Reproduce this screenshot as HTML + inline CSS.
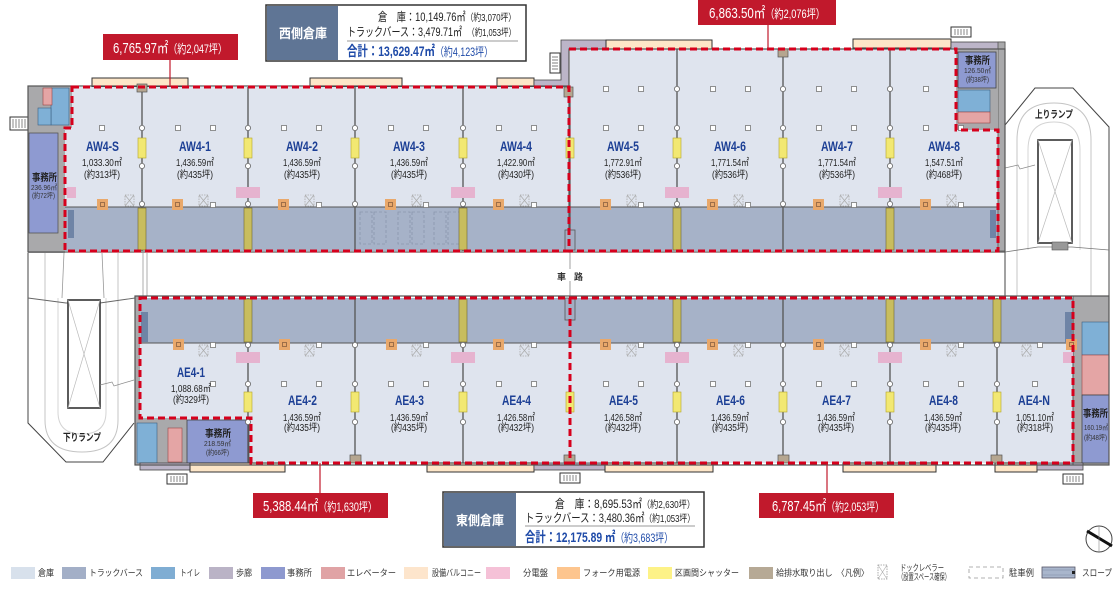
<!DOCTYPE html>
<html><head><meta charset="utf-8">
<style>
html,body{margin:0;padding:0;background:#fff;}
svg{display:block;}
text{font-family:"Liberation Sans","Noto Sans CJK JP",sans-serif;}
.u{font-size:14px;font-weight:bold;fill:#1c3f95;}
.a{font-size:10px;fill:#222;}
.r{font-size:15px;fill:#fff;}
.lg{font-size:9px;fill:#333;font-family:"Noto Sans CJK JP","Liberation Sans",sans-serif;}
.of{font-size:10px;font-weight:bold;fill:#222;font-family:"Noto Sans CJK JP","Liberation Sans",sans-serif;}
.os{font-size:7.5px;fill:#333;}
</style></head><body>
<svg width="1114" height="593" viewBox="0 0 1114 593" xmlns="http://www.w3.org/2000/svg">
<defs>
<g id="sq"><rect x="-2.5" y="-2.5" width="5" height="5" fill="#fff" stroke="#777" stroke-width="0.8"/></g>
<g id="ci"><circle r="2.6" fill="#fff" stroke="#666" stroke-width="0.8"/></g>
<g id="or"><rect x="0" y="0" width="11" height="11" fill="#e9a86b"/><rect x="3.5" y="3.5" width="4" height="4" fill="none" stroke="#8a6040" stroke-width="0.8"/></g>
<g id="dx"><rect x="0" y="0" width="9" height="11" fill="none" stroke="#aaa" stroke-width="0.8" stroke-dasharray="1.5,1"/><path d="M0,0L9,11M9,0L0,11" stroke="#aaa" stroke-width="0.7"/></g>
<g id="st"><rect x="0" y="0" width="20" height="10" fill="#fff" stroke="#333" stroke-width="1"/><path d="M4,2V8M7,2V8M10,2V8M13,2V8M16,2V8" stroke="#555" stroke-width="0.7"/></g>
</defs>

<!-- ========== RAMPS ========== -->
<path d="M28,253 V423 L66,462 H103 L134,423" fill="#fff" stroke="#444" stroke-width="1"/>
<path d="M45,253 V420 Q45,452 82,452 Q118,452 118,420 V253" fill="none" stroke="#c4c4c4" stroke-width="1"/>
<path d="M58,298 V412 Q58,434 82,434 Q106,434 106,412 V298" fill="none" stroke="#d4d4d4" stroke-width="1"/>
<path d="M64,253 L62,298 M102,253 L104,298 M143,253 V296 M147,253 V296" stroke="#999" stroke-width="0.8" fill="none"/>
<path d="M28,298 L66,303 H100 L135,298" stroke="#666" stroke-width="0.9" fill="none"/>
<rect x="68" y="300" width="32" height="108" fill="#fff" stroke="#333" stroke-width="1.6"/>
<path d="M68,300 L100,408 M100,300 L68,408" stroke="#bbb" stroke-width="0.7"/>
<path d="M100,385 L112,382 L114,386 L134,380" stroke="#888" stroke-width="0.7" fill="none"/>
<text x="63" y="441" class="of" font-size="9" textLength="38" lengthAdjust="spacingAndGlyphs">下りランプ</text>

<path d="M1005,296 V125 L1035,88 H1073 L1109,127 V296" fill="#fff" stroke="#444" stroke-width="1"/>
<path d="M1017,296 V140 Q1017,103 1054,103 Q1091,103 1091,140 V296" fill="none" stroke="#c4c4c4" stroke-width="1"/>
<path d="M1028,250 V150 Q1028,122 1054,122 Q1080,122 1080,150 V250" fill="none" stroke="#d4d4d4" stroke-width="1"/>
<path d="M1005,252 L1038,247 H1072 L1109,250" stroke="#777" stroke-width="0.8" fill="none"/>
<rect x="1038" y="140" width="34" height="103" fill="#fff" stroke="#333" stroke-width="1.6"/>
<path d="M1038,140 L1072,243 M1072,140 L1038,243" stroke="#bbb" stroke-width="0.7"/>
<rect x="1052" y="242" width="16" height="8" fill="#999" stroke="#555" stroke-width="0.6"/>
<path d="M1005,168 L1018,165 L1020,169 L1035,165" stroke="#888" stroke-width="0.7" fill="none"/>
<text x="1035" y="118" class="of" font-size="9" textLength="38" lengthAdjust="spacingAndGlyphs">上りランプ</text>

<line x1="570" y1="251" x2="570" y2="298" stroke="#888" stroke-width="0.8"/>
<rect x="557" y="269" width="26" height="12" fill="#fff"/>
<text x="557" y="280" font-size="9" font-weight="bold" fill="#333">車</text>
<text x="574" y="280" font-size="9" font-weight="bold" fill="#333">路</text>

<!-- ========== TOP BUILDING ========== -->
<rect x="92" y="78" width="96" height="9" fill="#fde6c8" stroke="#333" stroke-width="1"/>
<rect x="310" y="78" width="92" height="9" fill="#fde6c8" stroke="#333" stroke-width="1"/>
<rect x="497" y="78" width="37" height="9" fill="#fde6c8" stroke="#333" stroke-width="1"/>
<path d="M534,80 H561 V40 H606 V49 H569 V87 H534 Z" fill="#bcb5c8" stroke="#444" stroke-width="0.8"/>
<use href="#st" x="0" y="0" transform="translate(560,53) rotate(90)"/>
<rect x="606" y="40" width="106" height="9" fill="#fde6c8" stroke="#333" stroke-width="1"/>
<rect x="853" y="39" width="98" height="9" fill="#fde6c8" stroke="#333" stroke-width="1"/>
<rect x="951" y="42" width="54" height="7" fill="#bcb5c8" stroke="#444" stroke-width="0.8"/>
<use href="#st" x="951" y="27"/>

<rect x="65" y="87" width="505" height="120" fill="#dfe4ee"/>
<rect x="65" y="207" width="505" height="44" fill="#a6b2c8"/>
<rect x="570" y="49" width="428" height="158" fill="#dfe4ee"/>
<rect x="570" y="207" width="428" height="44" fill="#a6b2c8"/>
<rect x="998" y="42" width="7" height="209" fill="#a9a9ab" stroke="#555" stroke-width="0.8"/>

<rect x="10" y="117" width="18" height="13" fill="#fff" stroke="#333" stroke-width="1"/>
<path d="M13,119V128M16,119V128M19,119V128M22,119V128M25,119V128" stroke="#555" stroke-width="0.7"/>
<rect x="28" y="86" width="44" height="42" fill="#a9a9ab"/>
<rect x="28" y="128" width="37" height="125" fill="#a9a9ab"/>
<rect x="51" y="88" width="18" height="37" fill="#7fb0d6" stroke="#3b5f80" stroke-width="0.6"/>
<rect x="38" y="108" width="13" height="17" fill="#7fb0d6" stroke="#3b5f80" stroke-width="0.6"/>
<rect x="43" y="88" width="9" height="17" fill="#e4a5a5" stroke="#944" stroke-width="0.6"/>
<rect x="29" y="133" width="29" height="100" fill="#8e9ad1" stroke="#555" stroke-width="0.8"/>
<text x="32" y="181" class="of" textLength="25" lengthAdjust="spacingAndGlyphs">事務所</text>
<text x="31" y="190" class="os" textLength="26" lengthAdjust="spacingAndGlyphs">236.96㎡</text>
<text x="32" y="198" class="os" textLength="23" lengthAdjust="spacingAndGlyphs">(約72坪)</text>

<rect x="956" y="49" width="42" height="81" fill="#a9a9ab"/>
<rect x="958" y="52" width="38" height="36" fill="#8e9ad1" stroke="#444" stroke-width="0.8"/>
<rect x="958" y="90" width="32" height="22" fill="#7fb0d6" stroke="#3b5f80" stroke-width="0.6"/>
<rect x="958" y="112" width="32" height="11" fill="#e4a5a5" stroke="#944" stroke-width="0.6"/>
<text x="965" y="64" class="of" textLength="25" lengthAdjust="spacingAndGlyphs">事務所</text>
<text x="964" y="73" class="os" textLength="27" lengthAdjust="spacingAndGlyphs">126.50㎡</text>
<text x="966" y="82" class="os" textLength="23" lengthAdjust="spacingAndGlyphs">(約38坪)</text>

<g fill="none" stroke="#8a96ad" stroke-width="0.8" stroke-dasharray="3,2">
<rect x="360" y="212" width="12" height="32"/><rect x="374" y="212" width="12" height="32"/>
<rect x="398" y="212" width="12" height="32"/><rect x="412" y="212" width="12" height="32"/>
<rect x="434" y="212" width="12" height="32"/><rect x="448" y="212" width="12" height="32"/>
</g>

<rect x="28" y="86" width="542" height="166" fill="none" stroke="#555" stroke-width="1.2"/>
<rect x="569" y="49" width="436" height="203" fill="none" stroke="#555" stroke-width="1.2"/>
<line x1="65" y1="207" x2="998" y2="207" stroke="#555" stroke-width="1"/>

<g stroke="#555" stroke-width="1.3">
<line x1="142" y1="87" x2="142" y2="251"/><line x1="248" y1="87" x2="248" y2="251"/>
<line x1="355" y1="87" x2="355" y2="251"/><line x1="463" y1="87" x2="463" y2="251"/>
<line x1="677" y1="49" x2="677" y2="251"/><line x1="783" y1="49" x2="783" y2="251"/>
<line x1="890" y1="49" x2="890" y2="251"/>
</g>

<rect x="68" y="210" width="6" height="28" fill="#6f84a6"/>
<rect x="990" y="210" width="6" height="28" fill="#6f84a6"/>
<rect x="565" y="230" width="10" height="20" fill="#a3aec4" stroke="#555" stroke-width="0.8"/>

<g fill="#f2e872" stroke="#b3a52a" stroke-width="0.6">
<rect x="138" y="138" width="8" height="20"/><rect x="244" y="138" width="8" height="20"/>
<rect x="351" y="138" width="8" height="20"/><rect x="459" y="138" width="8" height="20"/>
<rect x="566" y="138" width="8" height="20"/><rect x="673" y="138" width="8" height="20"/>
<rect x="779" y="138" width="8" height="20"/><rect x="886" y="138" width="8" height="20"/>
</g>
<g fill="#c8bd5e" stroke="#6e6630" stroke-width="0.6">
<rect x="138" y="208" width="8" height="42"/><rect x="244" y="208" width="8" height="42"/>
<rect x="459" y="208" width="8" height="42"/><rect x="673" y="208" width="8" height="42"/>
<rect x="886" y="208" width="8" height="42"/>
</g>

<g fill="#e6b3cf">
<rect x="67" y="187" width="9" height="11"/><rect x="236" y="187" width="24" height="11"/>
<rect x="451" y="187" width="24" height="11"/><rect x="665" y="187" width="24" height="11"/>
<rect x="878" y="187" width="24" height="11"/>
</g>
<use href="#or" x="97" y="199"/><use href="#or" x="172" y="199"/><use href="#or" x="278" y="199"/>
<use href="#or" x="385" y="199"/><use href="#or" x="493" y="199"/><use href="#or" x="600" y="199"/>
<use href="#or" x="707" y="199"/><use href="#or" x="813" y="199"/><use href="#or" x="920" y="199"/>
<use href="#dx" x="125" y="195"/><use href="#dx" x="199" y="195"/><use href="#dx" x="305" y="195"/>
<use href="#dx" x="412" y="195"/><use href="#dx" x="520" y="195"/><use href="#dx" x="627" y="195"/>
<use href="#dx" x="734" y="195"/><use href="#dx" x="840" y="195"/><use href="#dx" x="947" y="195"/>

<g>
<use href="#sq" x="102" y="128"/>
<use href="#sq" x="178" y="128"/><use href="#sq" x="213" y="128"/><use href="#sq" x="284" y="128"/><use href="#sq" x="319" y="128"/>
<use href="#sq" x="391" y="128"/><use href="#sq" x="426" y="128"/><use href="#sq" x="499" y="128"/><use href="#sq" x="534" y="128"/>
<use href="#sq" x="606" y="128"/><use href="#sq" x="641" y="128"/><use href="#sq" x="713" y="128"/><use href="#sq" x="748" y="128"/>
<use href="#sq" x="819" y="128"/><use href="#sq" x="854" y="128"/><use href="#sq" x="926" y="128"/><use href="#sq" x="961" y="128"/>
<use href="#sq" x="606" y="89"/><use href="#sq" x="641" y="89"/><use href="#sq" x="713" y="89"/><use href="#sq" x="748" y="89"/>
<use href="#sq" x="819" y="89"/><use href="#sq" x="854" y="89"/><use href="#sq" x="926" y="89"/>
<use href="#sq" x="213" y="205"/><use href="#sq" x="319" y="205"/><use href="#sq" x="426" y="205"/><use href="#sq" x="534" y="205"/>
<use href="#sq" x="641" y="205"/><use href="#sq" x="748" y="205"/><use href="#sq" x="854" y="205"/><use href="#sq" x="961" y="205"/>
</g>
<g>
<use href="#ci" x="142" y="128"/><use href="#ci" x="142" y="166"/><use href="#ci" x="142" y="204"/>
<use href="#ci" x="248" y="128"/><use href="#ci" x="248" y="166"/><use href="#ci" x="248" y="204"/>
<use href="#ci" x="355" y="128"/><use href="#ci" x="355" y="166"/><use href="#ci" x="355" y="204"/>
<use href="#ci" x="463" y="128"/><use href="#ci" x="463" y="166"/><use href="#ci" x="463" y="204"/>
<use href="#ci" x="677" y="89"/><use href="#ci" x="677" y="128"/><use href="#ci" x="677" y="166"/><use href="#ci" x="677" y="204"/>
<use href="#ci" x="783" y="89"/><use href="#ci" x="783" y="128"/><use href="#ci" x="783" y="166"/><use href="#ci" x="783" y="204"/>
<use href="#ci" x="890" y="89"/><use href="#ci" x="890" y="128"/><use href="#ci" x="890" y="166"/><use href="#ci" x="890" y="204"/>
</g>
<g fill="#b5a690" stroke="#555" stroke-width="0.7">
<rect x="137" y="84" width="10" height="8"/><rect x="564" y="87" width="9" height="10"/><rect x="778" y="49" width="10" height="8"/>
</g>

<!-- ========== BOTTOM BUILDING ========== -->
<rect x="140" y="298" width="933" height="45" fill="#a6b2c8"/>
<rect x="140" y="343" width="933" height="120" fill="#dfe4ee"/>
<rect x="135" y="296" width="5" height="169" fill="#a9a9ab"/>
<rect x="135" y="418" width="52" height="47" fill="#a9a9ab"/>
<rect x="137" y="423" width="20" height="40" fill="#7fb0d6" stroke="#3b5f80" stroke-width="0.6"/>
<rect x="168" y="428" width="14" height="34" fill="#e4a5a5" stroke="#944" stroke-width="0.6"/>
<rect x="187" y="420" width="62" height="43" fill="#8e9ad1" stroke="#444" stroke-width="0.8"/>
<text x="205" y="437" class="of" textLength="26" lengthAdjust="spacingAndGlyphs">事務所</text>
<text x="204" y="446" class="os" textLength="27" lengthAdjust="spacingAndGlyphs">218.59㎡</text>
<text x="206" y="455" class="os" textLength="23" lengthAdjust="spacingAndGlyphs">(約66坪)</text>
<rect x="1073" y="296" width="36" height="169" fill="#a9a9ab"/>
<rect x="1082" y="322" width="27" height="33" fill="#7fb0d6" stroke="#3b5f80" stroke-width="0.6"/>
<rect x="1082" y="355" width="27" height="40" fill="#e4a5a5" stroke="#944" stroke-width="0.6"/>
<rect x="1082" y="395" width="27" height="68" fill="#8e9ad1" stroke="#444" stroke-width="0.8"/>
<text x="1083" y="417" class="of" textLength="25" lengthAdjust="spacingAndGlyphs">事務所</text>
<text x="1084" y="430" class="os" textLength="24" lengthAdjust="spacingAndGlyphs">160.19㎡</text>
<text x="1084" y="440" class="os" textLength="23" lengthAdjust="spacingAndGlyphs">(約48坪)</text>

<rect x="140" y="463" width="50" height="7" fill="#bcb5c8" stroke="#444" stroke-width="0.8"/>
<rect x="190" y="463" width="95" height="9" fill="#fde6c8" stroke="#333" stroke-width="1"/>
<rect x="427" y="463" width="107" height="9" fill="#fde6c8" stroke="#333" stroke-width="1"/>
<rect x="534" y="463" width="71" height="7" fill="#bcb5c8" stroke="#444" stroke-width="0.8"/>
<rect x="605" y="463" width="108" height="9" fill="#fde6c8" stroke="#333" stroke-width="1"/>
<rect x="843" y="463" width="93" height="9" fill="#fde6c8" stroke="#333" stroke-width="1"/>
<rect x="995" y="463" width="42" height="9" fill="#fde6c8" stroke="#333" stroke-width="1"/>
<rect x="1037" y="463" width="46" height="7" fill="#bcb5c8" stroke="#444" stroke-width="0.8"/>
<use href="#st" x="167" y="474"/><use href="#st" x="560" y="473"/><use href="#st" x="1063" y="474"/>

<rect x="135" y="296" width="974" height="169" fill="none" stroke="#555" stroke-width="1.2"/>
<line x1="140" y1="343" x2="1073" y2="343" stroke="#555" stroke-width="1"/>
<line x1="1073" y1="296" x2="1073" y2="465" stroke="#555" stroke-width="1"/>
<g stroke="#555" stroke-width="1.3">
<line x1="248" y1="298" x2="248" y2="463"/><line x1="355" y1="298" x2="355" y2="463"/>
<line x1="463" y1="298" x2="463" y2="463"/><line x1="677" y1="298" x2="677" y2="463"/>
<line x1="783" y1="298" x2="783" y2="463"/><line x1="890" y1="298" x2="890" y2="463"/>
<line x1="997" y1="298" x2="997" y2="463"/>
</g>
<rect x="141" y="312" width="7" height="30" fill="#6f84a6"/>
<rect x="1065" y="312" width="7" height="30" fill="#6f84a6"/>
<rect x="565" y="298" width="10" height="22" fill="#a3aec4" stroke="#555" stroke-width="0.8"/>

<g fill="#f2e872" stroke="#b3a52a" stroke-width="0.6">
<rect x="244" y="392" width="8" height="20"/><rect x="351" y="392" width="8" height="20"/>
<rect x="459" y="392" width="8" height="20"/><rect x="566" y="392" width="8" height="20"/>
<rect x="673" y="392" width="8" height="20"/><rect x="779" y="392" width="8" height="20"/>
<rect x="886" y="392" width="8" height="20"/><rect x="993" y="392" width="8" height="20"/>
</g>
<g fill="#c8bd5e" stroke="#6e6630" stroke-width="0.6">
<rect x="244" y="299" width="8" height="43"/><rect x="459" y="299" width="8" height="43"/>
<rect x="673" y="299" width="8" height="43"/><rect x="886" y="299" width="8" height="43"/>
<rect x="993" y="299" width="8" height="43"/>
</g>
<g fill="#e6b3cf">
<rect x="236" y="352" width="24" height="11"/><rect x="451" y="352" width="24" height="11"/>
<rect x="665" y="352" width="24" height="11"/><rect x="878" y="352" width="24" height="11"/>
<rect x="1063" y="352" width="10" height="11"/>
</g>
<use href="#or" x="173" y="339"/><use href="#or" x="279" y="339"/><use href="#or" x="386" y="339"/>
<use href="#or" x="493" y="339"/><use href="#or" x="600" y="339"/><use href="#or" x="707" y="339"/>
<use href="#or" x="813" y="339"/><use href="#or" x="920" y="339"/><use href="#or" x="1066" y="339"/>
<use href="#dx" x="199" y="345"/><use href="#dx" x="305" y="345"/><use href="#dx" x="412" y="345"/>
<use href="#dx" x="520" y="345"/><use href="#dx" x="627" y="345"/><use href="#dx" x="734" y="345"/>
<use href="#dx" x="840" y="345"/><use href="#dx" x="947" y="345"/><use href="#dx" x="1022" y="345"/>
<g>
<use href="#sq" x="213" y="345"/><use href="#sq" x="319" y="345"/><use href="#sq" x="426" y="345"/><use href="#sq" x="534" y="345"/>
<use href="#sq" x="641" y="345"/><use href="#sq" x="748" y="345"/><use href="#sq" x="854" y="345"/><use href="#sq" x="961" y="345"/><use href="#sq" x="1040" y="345"/>
<use href="#sq" x="213" y="384"/><use href="#sq" x="284" y="384"/><use href="#sq" x="319" y="384"/>
<use href="#sq" x="391" y="384"/><use href="#sq" x="426" y="384"/><use href="#sq" x="499" y="384"/><use href="#sq" x="534" y="384"/>
<use href="#sq" x="606" y="384"/><use href="#sq" x="641" y="384"/><use href="#sq" x="713" y="384"/><use href="#sq" x="748" y="384"/>
<use href="#sq" x="819" y="384"/><use href="#sq" x="854" y="384"/><use href="#sq" x="926" y="384"/><use href="#sq" x="961" y="384"/><use href="#sq" x="1035" y="384"/>
</g>
<g>
<use href="#ci" x="248" y="345"/><use href="#ci" x="248" y="384"/><use href="#ci" x="248" y="422"/>
<use href="#ci" x="355" y="345"/><use href="#ci" x="355" y="384"/><use href="#ci" x="355" y="422"/>
<use href="#ci" x="463" y="345"/><use href="#ci" x="463" y="384"/><use href="#ci" x="463" y="422"/>
<use href="#ci" x="677" y="345"/><use href="#ci" x="677" y="384"/><use href="#ci" x="677" y="422"/>
<use href="#ci" x="783" y="345"/><use href="#ci" x="783" y="384"/><use href="#ci" x="783" y="422"/>
<use href="#ci" x="890" y="345"/><use href="#ci" x="890" y="384"/><use href="#ci" x="890" y="422"/>
<use href="#ci" x="997" y="345"/><use href="#ci" x="997" y="384"/><use href="#ci" x="997" y="422"/>
</g>
<g fill="#b5a690" stroke="#555" stroke-width="0.7">
<rect x="350" y="455" width="11" height="8"/><rect x="564" y="455" width="11" height="8"/>
<rect x="778" y="455" width="11" height="8"/><rect x="991" y="455" width="11" height="8"/>
</g>

<!-- ========== RED DASHED AREAS ========== -->
<g fill="none" stroke="#d6001c" stroke-width="3" stroke-dasharray="7,4">
<path d="M72,87 H569 V251 H65 V128 H72 Z"/>
<path d="M569,49 H956 V130 H998 V251 H569"/>
<path d="M140,298 H570 V463 H251 V418 H140 Z"/>
<path d="M570,298 H1073 V463 H570"/>
</g>

<!-- ========== UNIT LABELS ========== -->
<g class="u">
<text x="86" y="151" textLength="33" lengthAdjust="spacingAndGlyphs">AW4-S</text>
<text x="179" y="151" textLength="32" lengthAdjust="spacingAndGlyphs">AW4-1</text>
<text x="286" y="151" textLength="32" lengthAdjust="spacingAndGlyphs">AW4-2</text>
<text x="393" y="151" textLength="32" lengthAdjust="spacingAndGlyphs">AW4-3</text>
<text x="500" y="151" textLength="32" lengthAdjust="spacingAndGlyphs">AW4-4</text>
<text x="607" y="151" textLength="32" lengthAdjust="spacingAndGlyphs">AW4-5</text>
<text x="714" y="151" textLength="32" lengthAdjust="spacingAndGlyphs">AW4-6</text>
<text x="821" y="151" textLength="32" lengthAdjust="spacingAndGlyphs">AW4-7</text>
<text x="928" y="151" textLength="32" lengthAdjust="spacingAndGlyphs">AW4-8</text>
<text x="177" y="377" textLength="28" lengthAdjust="spacingAndGlyphs">AE4-1</text>
<text x="288" y="405" textLength="29" lengthAdjust="spacingAndGlyphs">AE4-2</text>
<text x="395" y="405" textLength="29" lengthAdjust="spacingAndGlyphs">AE4-3</text>
<text x="502" y="405" textLength="29" lengthAdjust="spacingAndGlyphs">AE4-4</text>
<text x="609" y="405" textLength="29" lengthAdjust="spacingAndGlyphs">AE4-5</text>
<text x="716" y="405" textLength="29" lengthAdjust="spacingAndGlyphs">AE4-6</text>
<text x="822" y="405" textLength="29" lengthAdjust="spacingAndGlyphs">AE4-7</text>
<text x="929" y="405" textLength="29" lengthAdjust="spacingAndGlyphs">AE4-8</text>
<text x="1018" y="405" textLength="32" lengthAdjust="spacingAndGlyphs">AE4-N</text>
</g>
<g class="a">
<text x="82" y="166" textLength="40" lengthAdjust="spacingAndGlyphs">1,033.30㎡</text>
<text x="84" y="178" textLength="36" lengthAdjust="spacingAndGlyphs">(約313坪)</text>
<text x="176" y="166" textLength="38" lengthAdjust="spacingAndGlyphs">1,436.59㎡</text>
<text x="177" y="178" textLength="36" lengthAdjust="spacingAndGlyphs">(約435坪)</text>
<text x="283" y="166" textLength="38" lengthAdjust="spacingAndGlyphs">1,436.59㎡</text>
<text x="284" y="178" textLength="36" lengthAdjust="spacingAndGlyphs">(約435坪)</text>
<text x="390" y="166" textLength="38" lengthAdjust="spacingAndGlyphs">1,436.59㎡</text>
<text x="391" y="178" textLength="36" lengthAdjust="spacingAndGlyphs">(約435坪)</text>
<text x="497" y="166" textLength="38" lengthAdjust="spacingAndGlyphs">1,422.90㎡</text>
<text x="498" y="178" textLength="36" lengthAdjust="spacingAndGlyphs">(約430坪)</text>
<text x="604" y="166" textLength="38" lengthAdjust="spacingAndGlyphs">1,772.91㎡</text>
<text x="605" y="178" textLength="36" lengthAdjust="spacingAndGlyphs">(約536坪)</text>
<text x="711" y="166" textLength="38" lengthAdjust="spacingAndGlyphs">1,771.54㎡</text>
<text x="712" y="178" textLength="36" lengthAdjust="spacingAndGlyphs">(約536坪)</text>
<text x="818" y="166" textLength="38" lengthAdjust="spacingAndGlyphs">1,771.54㎡</text>
<text x="819" y="178" textLength="36" lengthAdjust="spacingAndGlyphs">(約536坪)</text>
<text x="925" y="166" textLength="38" lengthAdjust="spacingAndGlyphs">1,547.51㎡</text>
<text x="926" y="178" textLength="36" lengthAdjust="spacingAndGlyphs">(約468坪)</text>

<text x="171" y="392" textLength="40" lengthAdjust="spacingAndGlyphs">1,088.68㎡</text>
<text x="173" y="403" textLength="36" lengthAdjust="spacingAndGlyphs">(約329坪)</text>
<text x="283" y="421" textLength="38" lengthAdjust="spacingAndGlyphs">1,436.59㎡</text>
<text x="284" y="431" textLength="36" lengthAdjust="spacingAndGlyphs">(約435坪)</text>
<text x="390" y="421" textLength="38" lengthAdjust="spacingAndGlyphs">1,436.59㎡</text>
<text x="391" y="431" textLength="36" lengthAdjust="spacingAndGlyphs">(約435坪)</text>
<text x="497" y="421" textLength="38" lengthAdjust="spacingAndGlyphs">1,426.58㎡</text>
<text x="498" y="431" textLength="36" lengthAdjust="spacingAndGlyphs">(約432坪)</text>
<text x="604" y="421" textLength="38" lengthAdjust="spacingAndGlyphs">1,426.58㎡</text>
<text x="605" y="431" textLength="36" lengthAdjust="spacingAndGlyphs">(約432坪)</text>
<text x="711" y="421" textLength="38" lengthAdjust="spacingAndGlyphs">1,436.59㎡</text>
<text x="712" y="431" textLength="36" lengthAdjust="spacingAndGlyphs">(約435坪)</text>
<text x="817" y="421" textLength="38" lengthAdjust="spacingAndGlyphs">1,436.59㎡</text>
<text x="818" y="431" textLength="36" lengthAdjust="spacingAndGlyphs">(約435坪)</text>
<text x="924" y="421" textLength="38" lengthAdjust="spacingAndGlyphs">1,436.59㎡</text>
<text x="925" y="431" textLength="36" lengthAdjust="spacingAndGlyphs">(約435坪)</text>
<text x="1016" y="421" textLength="38" lengthAdjust="spacingAndGlyphs">1,051.10㎡</text>
<text x="1017" y="431" textLength="36" lengthAdjust="spacingAndGlyphs">(約318坪)</text>
</g>

<!-- ========== RED AREA LABELS ========== -->
<line x1="170" y1="60" x2="170" y2="87" stroke="#c1192c" stroke-width="1.2"/>
<rect x="103" y="34" width="135" height="26" fill="#c1192c"/>
<text x="113" y="53" class="r" textLength="114" lengthAdjust="spacingAndGlyphs">6,765.97㎡<tspan font-size="12">（約2,047坪）</tspan></text>

<line x1="768" y1="25" x2="768" y2="49" stroke="#c1192c" stroke-width="1.2"/>
<rect x="698" y="0" width="138" height="25" fill="#c1192c"/>
<text x="709" y="18" class="r" textLength="116" lengthAdjust="spacingAndGlyphs">6,863.50㎡<tspan font-size="12">（約2,076坪）</tspan></text>

<line x1="320" y1="463" x2="320" y2="493" stroke="#c1192c" stroke-width="1.2"/>
<rect x="253" y="493" width="135" height="25" fill="#c1192c"/>
<text x="263" y="511" class="r" textLength="114" lengthAdjust="spacingAndGlyphs">5,388.44㎡<tspan font-size="12">（約1,630坪）</tspan></text>

<line x1="827" y1="463" x2="827" y2="493" stroke="#c1192c" stroke-width="1.2"/>
<rect x="759" y="493" width="135" height="25" fill="#c1192c"/>
<text x="772" y="511" class="r" textLength="112" lengthAdjust="spacingAndGlyphs">6,787.45㎡<tspan font-size="12">（約2,053坪）</tspan></text>

<!-- ========== INFO BOXES ========== -->
<rect x="266" y="5" width="260" height="56" fill="#fff" stroke="#333" stroke-width="1.5"/>
<rect x="267" y="6" width="71" height="54" fill="#5f7595"/>
<text x="279" y="38" font-size="13" font-weight="bold" fill="#fff" textLength="48" lengthAdjust="spacingAndGlyphs">西側倉庫</text>
<text x="378" y="21" font-size="12" fill="#222" textLength="138" lengthAdjust="spacingAndGlyphs">倉　庫：10,149.76㎡<tspan font-size="10">（約3,070坪）</tspan></text>
<text x="347" y="36" font-size="12" fill="#222" textLength="169" lengthAdjust="spacingAndGlyphs">トラックバース：3,479.71㎡　<tspan font-size="10">（約1,053坪）</tspan></text>
<line x1="347" y1="41" x2="518" y2="41" stroke="#999" stroke-width="1"/>
<text x="347" y="56" font-size="14" fill="#1e4aa8" font-weight="bold" textLength="146" lengthAdjust="spacingAndGlyphs">合計：13,629.47㎡<tspan font-size="12" font-weight="normal">（約4,123坪）</tspan></text>

<rect x="443" y="492" width="261" height="55" fill="#fff" stroke="#333" stroke-width="1.5"/>
<rect x="444" y="493" width="72" height="53" fill="#5f7595"/>
<text x="456" y="525" font-size="13" font-weight="bold" fill="#fff" textLength="48" lengthAdjust="spacingAndGlyphs">東側倉庫</text>
<text x="555" y="508" font-size="12" fill="#222" textLength="140" lengthAdjust="spacingAndGlyphs">倉　庫：8,695.53㎡<tspan font-size="10">（約2,630坪）</tspan></text>
<text x="525" y="522" font-size="12" fill="#222" textLength="170" lengthAdjust="spacingAndGlyphs">トラックバース：3,480.36㎡<tspan font-size="10">（約1,053坪）</tspan></text>
<line x1="525" y1="526" x2="695" y2="526" stroke="#999" stroke-width="1"/>
<text x="525" y="542" font-size="14" fill="#1e4aa8" font-weight="bold" textLength="148" lengthAdjust="spacingAndGlyphs">合計：12,175.89 ㎡<tspan font-size="12" font-weight="normal">（約3,683坪）</tspan></text>

<circle cx="1099" cy="539" r="13" fill="#fff" stroke="#444" stroke-width="1"/>
<line x1="1087" y1="531" x2="1112" y2="546" stroke="#111" stroke-width="3"/>
<line x1="1099" y1="526" x2="1099" y2="552" stroke="#888" stroke-width="0.6"/>

<!-- ========== LEGEND ========== -->
<rect x="11" y="567" width="24" height="12" fill="#d8e1ec"/>
<text x="38" y="576" class="lg" textLength="16" lengthAdjust="spacingAndGlyphs">倉庫</text>
<rect x="62" y="567" width="24" height="12" fill="#a3afc7"/>
<text x="89" y="576" class="lg" textLength="54" lengthAdjust="spacingAndGlyphs">トラックバース</text>
<rect x="151" y="567" width="24" height="12" fill="#7fadd3"/>
<text x="180" y="576" class="lg" textLength="20" lengthAdjust="spacingAndGlyphs">トイレ</text>
<rect x="209" y="567" width="24" height="12" fill="#bab3c6"/>
<text x="236" y="576" class="lg" textLength="16" lengthAdjust="spacingAndGlyphs">歩廊</text>
<rect x="261" y="567" width="24" height="12" fill="#8e99cf"/>
<text x="287" y="576" class="lg" textLength="25" lengthAdjust="spacingAndGlyphs">事務所</text>
<rect x="321" y="567" width="24" height="12" fill="#e0a3a5"/>
<text x="347" y="576" class="lg" textLength="49" lengthAdjust="spacingAndGlyphs">エレベーター</text>
<rect x="404" y="567" width="24" height="12" fill="#fde5cc"/>
<text x="432" y="576" class="lg" textLength="49" lengthAdjust="spacingAndGlyphs">設備バルコニー</text>
<rect x="486" y="567" width="24" height="12" fill="#f5c1d7"/>
<text x="523" y="576" class="lg" textLength="25" lengthAdjust="spacingAndGlyphs">分電盤</text>
<rect x="557" y="567" width="23" height="12" fill="#fdc58e"/>
<text x="583" y="576" class="lg" textLength="57" lengthAdjust="spacingAndGlyphs">フォーク用電源</text>
<rect x="648" y="567" width="24" height="12" fill="#fdf287"/>
<text x="675" y="576" class="lg" textLength="64" lengthAdjust="spacingAndGlyphs">区画間シャッター</text>
<rect x="749" y="567" width="24" height="12" fill="#b6a995"/>
<text x="776" y="576" class="lg" textLength="93" lengthAdjust="spacingAndGlyphs">給排水取り出し　〈凡例〉</text>
<rect x="878" y="565" width="9" height="14" fill="none" stroke="#999" stroke-width="0.8" stroke-dasharray="1.5,1"/>
<path d="M878,565 L887,579 M887,565 L878,579" stroke="#aaa" stroke-width="0.6"/>
<text x="900" y="571" class="lg" textLength="44" lengthAdjust="spacingAndGlyphs">ドックレベラー</text>
<text x="898" y="580" class="lg" font-size="6.5" textLength="52" lengthAdjust="spacingAndGlyphs">（設置スペース確保）</text>
<rect x="969" y="567" width="34" height="11" fill="none" stroke="#999" stroke-width="0.8" stroke-dasharray="4,3"/>
<text x="1009" y="576" class="lg" textLength="25" lengthAdjust="spacingAndGlyphs">駐車例</text>
<rect x="1042" y="567" width="33" height="11" fill="#a9b6cc" stroke="#556" stroke-width="0.8"/>
<path d="M1042,570 H1075 M1042,575 H1075" stroke="#7d8aa3" stroke-width="0.6"/>
<rect x="1072" y="571" width="3" height="3" fill="#222"/>
<text x="1082" y="576" class="lg" textLength="30" lengthAdjust="spacingAndGlyphs">スロープ</text>
</svg>
</body></html>
